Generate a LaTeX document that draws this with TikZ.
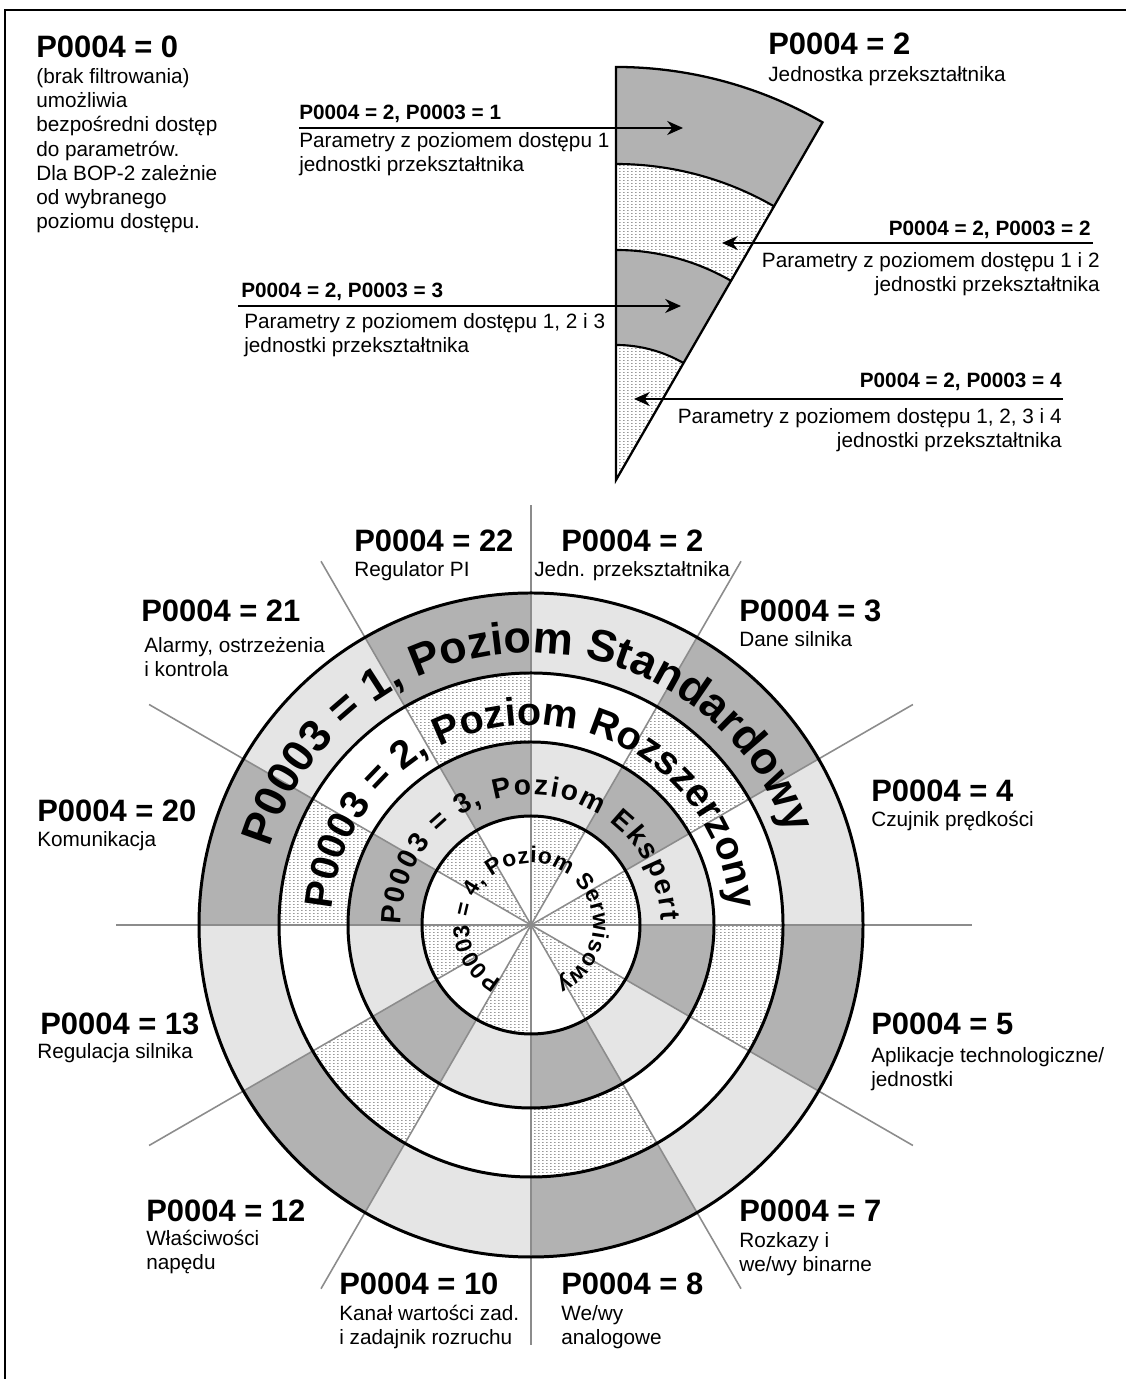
\documentclass[tikz,border=0pt]{standalone}
\usepackage{fontspec}
\setmainfont{Liberation Sans}
\usetikzlibrary{arrows.meta,decorations.text,patterns}

\definecolor{darkfill}{gray}{0.70}
\definecolor{lightfill}{gray}{0.90}
\definecolor{spokegray}{gray}{0.55}

% fine dotted raster for the stippled cells
\pgfdeclarepatternformonly{stipple}{\pgfpointorigin}{\pgfqpoint{2pt}{1.5pt}}{\pgfqpoint{2pt}{1.5pt}}{%
  \pgfpathrectangle{\pgfpointorigin}{\pgfqpoint{1pt}{0.6pt}}\pgfusepath{fill}}

\newcommand{\bigfont}{\fontsize{17.6}{21}\selectfont\bfseries}
\newcommand{\txtfont}{\fontsize{11.8}{13.8}\selectfont}
\newcommand{\keyfont}{\fontsize{11.8}{13.8}\selectfont\bfseries}
\newcommand{\ringa}{\fontsize{25.5}{25.5}\selectfont\bfseries}
\newcommand{\ringb}{\fontsize{22.5}{22.5}\selectfont\bfseries}
\newcommand{\ringc}{\fontsize{16}{16}\selectfont\bfseries}
\newcommand{\ringd}{\fontsize{13}{13}\selectfont\bfseries}

\begin{document}
\begin{tikzpicture}[x=0.2mm,y=0.2mm,
  head/.style={font=\bigfont,inner sep=0pt,anchor=base west},
  desc/.style={font=\txtfont,inner sep=0pt,anchor=base west,align=left},
  rdesc/.style={font=\txtfont,inner sep=0pt,anchor=base east,align=right},
  key/.style={font=\keyfont,inner sep=0pt,anchor=base west},
  rkey/.style={font=\keyfont,inner sep=0pt,anchor=base east},
  pfeil/.style={line width=1.1pt,-{Stealth[length=9pt,width=8pt]}},
  spoke/.style={draw=spokegray,line width=0.9pt},
  ring/.style={line width=1.7pt},
  stipplecell/.style={pattern=stipple,pattern color=gray!80},
  onpath/.style={decorate,decoration={text along path,text align=center,text={#1}}},
  spacedpath/.style={decorate,decoration={text along path,text align=fit to path,text={#1}}}]
\useasboundingbox (0,0) rectangle (1126,1379);

% frame
\draw[line width=1.4pt] (5,0) -- (5,1369) -- (1126,1369);

% P0004 = 0 (multi-line nodes sit on their last baseline)
\node[head] (h0) at (36,1321) {P0004 = 0};
\node[desc] (d0) at (36,1150) {(brak filtrowania)\\umożliwia\\bezpośredni dostęp\\do parametrów.\\Dla BOP-2 zależnie\\od wybranego\\poziomu dostępu.};

% enlarged sector P0004 = 2
\begin{scope}[shift={(616,899)}]
\fill[darkfill] (90:316) arc[start angle=90,end angle=60,radius=316] -- (60:413) arc[start angle=60,end angle=90,radius=413] -- cycle;
\fill[stipplecell] (90:230) arc[start angle=90,end angle=60,radius=230] -- (60:316) arc[start angle=60,end angle=90,radius=316] -- cycle;
\fill[darkfill] (90:135) arc[start angle=90,end angle=60,radius=135] -- (60:230) arc[start angle=60,end angle=90,radius=230] -- cycle;
\fill[stipplecell] (0,0) -- (90:135) arc[start angle=90,end angle=60,radius=135] -- cycle;
\foreach \r in {135,230,316}
  \draw[line width=1.2pt] (90:\r) arc[start angle=90,end angle=60,radius=\r];
\draw[line width=1.3pt] (0,0) -- (90:413) arc[start angle=90,end angle=60,radius=413] -- cycle;
\end{scope}

\node[head] (h2) at (768,1324) {P0004 = 2};
\node[desc] (d2) at (768,1297) {Jednostka przekształtnika};

% access levels
\node[key] (k1) at (299,1259) {P0004 = 2, P0003 = 1};
\node[desc] (p1) at (299,1207) {Parametry z poziomem dostępu 1\\jednostki przekształtnika};
\coordinate (s1) at (299,1251);
\coordinate (e1) at (683,1251);
\draw[pfeil] (s1) -- (e1);

\node[rkey] (k2) at (1091,1143) {P0004 = 2, P0003 = 2};
\node[rdesc] (p2) at (1100,1087) {Parametry z poziomem dostępu 1 i 2\\jednostki przekształtnika};
\coordinate (s2) at (1093,1136);
\coordinate (e2) at (722,1136);
\draw[pfeil] (s2) -- (e2);

\node[key] (k3) at (241,1081) {P0004 = 2, P0003 = 3};
\node[desc] (p3) at (244,1026) {Parametry z poziomem dostępu 1, 2 i 3\\jednostki przekształtnika};
\coordinate (s3) at (238,1073);
\coordinate (e3) at (681,1073);
\draw[pfeil] (s3) -- (e3);

\node[rkey] (k4) at (1062,991) {P0004 = 2, P0003 = 4};
\node[rdesc] (p4) at (1062,931) {Parametry z poziomem dostępu 1, 2, 3 i 4\\jednostki przekształtnika};
\coordinate (s4) at (1063,980);
\coordinate (e4) at (634,980);
\draw[pfeil] (s4) -- (e4);

% level circle
\begin{scope}[shift={(531,454)}]
\foreach \a in {0,60,...,300} {
  \fill[lightfill] (\a:252) arc[start angle=\a,end angle=\a+30,radius=252] -- ({\a+30}:332) arc[start angle=\a+30,end angle=\a,radius=332] -- cycle;
  \fill[lightfill] (\a:109) arc[start angle=\a,end angle=\a+30,radius=109] -- ({\a+30}:183) arc[start angle=\a+30,end angle=\a,radius=183] -- cycle;
  \fill[stipplecell] (0,0) -- (\a:109) arc[start angle=\a,end angle=\a+30,radius=109] -- cycle;
}
\foreach \a in {30,90,...,330} {
  \fill[darkfill] (\a:252) arc[start angle=\a,end angle=\a+30,radius=252] -- ({\a+30}:332) arc[start angle=\a+30,end angle=\a,radius=332] -- cycle;
  \fill[stipplecell] (\a:183) arc[start angle=\a,end angle=\a+30,radius=183] -- ({\a+30}:252) arc[start angle=\a+30,end angle=\a,radius=252] -- cycle;
  \fill[darkfill] (\a:109) arc[start angle=\a,end angle=\a+30,radius=109] -- ({\a+30}:183) arc[start angle=\a+30,end angle=\a,radius=183] -- cycle;
}
\foreach \a/\l in {0/441,30/441,60/420,90/420,120/420,150/441,180/415,210/441,240/420,270/420,300/420,330/441}
  \draw[spoke] (0,0) -- (\a:\l);
\foreach \r in {109,183,252,332}
  \draw[ring] (0,0) circle[radius=\r];

\path[onpath={|\ringa|P0003 = 1, Poziom Standardowy}] (176.5:272) arc[start angle=176.5,end angle=6.5,radius=272];
\path[onpath={|\ringb|P0003 = 2, Poziom Rozszerzony}] (178:200) arc[start angle=178,end angle=2,radius=200];
\path[spacedpath={|\ringc|P0003 = 3, Poziom Ekspert}] (180:130) arc[start angle=180,end angle=2,radius=130];
\path[spacedpath={|\ringd|P0003 = 4, Poziom Serwisowy}] (242:62) arc[start angle=242,end angle=-66,radius=62];
\end{scope}

% parameter groups
\node[head] (g22) at (354,827) {P0004 = 22};
\node[desc] (t22) at (354,802) {Regulator PI};
\node[head] (g2) at (561,827) {P0004 = 2};
\node[desc] (t2) at (534,802) {Jedn. przekształtnika};
\node[head] (g21) at (141,757) {P0004 = 21};
\node[desc] (t21) at (144,702) {Alarmy, ostrzeżenia\\i kontrola};
\node[head] (g3) at (739,757) {P0004 = 3};
\node[desc] (t3) at (739,732) {Dane silnika};
\node[head] (g20) at (37,557) {P0004 = 20};
\node[desc] (t20) at (37,532) {Komunikacja};
\node[head] (g4) at (871,577) {P0004 = 4};
\node[desc] (t4) at (871,552) {Czujnik prędkości};
\node[head] (g13) at (40,344) {P0004 = 13};
\node[desc] (t13) at (37,320) {Regulacja silnika};
\node[head] (g5) at (871,344) {P0004 = 5};
\node[desc] (t5) at (871,292) {Aplikacje technologiczne/\\jednostki};
\node[head] (g12) at (146,157) {P0004 = 12};
\node[desc] (t12) at (146,109) {Właściwości\\napędu};
\node[head] (g7) at (739,157) {P0004 = 7};
\node[desc] (t7) at (739,107) {Rozkazy i\\we/wy binarne};
\node[head] (g10) at (339,84) {P0004 = 10};
\node[desc] (t10) at (339,34) {Kanał wartości zad.\\i zadajnik rozruchu};
\node[head] (g8) at (561,84) {P0004 = 8};
\node[desc] (t8) at (561,34) {We/wy\\analogowe};
\end{tikzpicture}
\end{document}
